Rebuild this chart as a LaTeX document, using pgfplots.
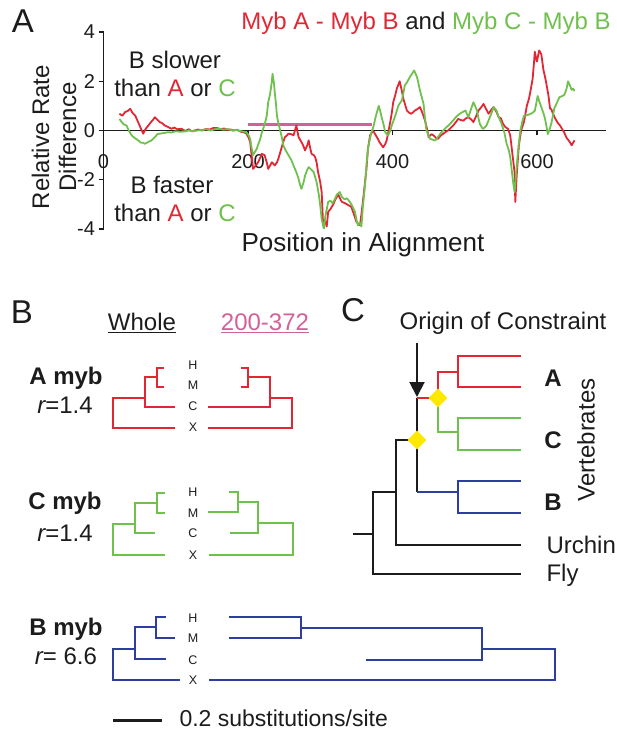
\documentclass[border=0pt]{standalone}
\usepackage{pgfplots}
\pgfplotsset{compat=1.18}
\usepackage{fontspec}
\setmainfont{Liberation Sans}
\usetikzlibrary{arrows.meta}
\definecolor{myred}{RGB}{226,38,52}
\definecolor{mygreen}{RGB}{112,192,78}
\definecolor{myblue}{RGB}{45,62,158}
\definecolor{mypink}{RGB}{212,96,152}
\definecolor{myyellow}{RGB}{255,232,0}
\definecolor{txt}{RGB}{28,28,28}
\newcommand{\ftxt}{\fontsize{24}{27}\selectfont}
\newcommand{\flab}{\fontsize{26}{27}\selectfont}
\newcommand{\fbig}{\fontsize{33}{36}\selectfont}
\newcommand{\ftick}{\fontsize{20}{22}\selectfont}
\newcommand{\fleaf}{\fontsize{12.5}{14}\selectfont}
\pgfplotsset{
  trred/.style={myred, line width=2.3pt, line join=miter},
  trgreen/.style={mygreen, line width=2.3pt, line join=miter},
  trblue/.style={myblue, line width=2.2pt, line join=miter},
  trblack/.style={txt, line width=2.2pt, line join=miter},
}
\tikzset{leaf/.style={font=\fleaf, text=txt}}
\begin{document}
\begin{tikzpicture}
% ---------------- canvas (pixel coordinates, y downward) ----------------
\begin{axis}[name=canvas, at={(0pt,0pt)}, anchor=south west,
  width=617pt, height=733pt, scale only axis,
  xmin=0, xmax=617, ymin=0, ymax=733, y dir=reverse,
  axis lines=none, ticks=none, clip=false]
% Panel A texts
\node[font=\fbig, text=txt] at (23,21) {A};
\node[font=\ftxt] at (426,23) {\textcolor{myred}{Myb A - Myb B} \textcolor{txt}{and} \textcolor{mygreen}{Myb C - Myb B}};
\node[font=\ftxt, text=txt] at (175,60) {B slower};
\node[font=\ftxt, text=txt] at (175,88) {than \textcolor{myred}{A} or \textcolor{mygreen}{C}};
\node[font=\ftxt, text=txt] at (172,185) {B faster};
\node[font=\ftxt, text=txt] at (175,213) {than \textcolor{myred}{A} or \textcolor{mygreen}{C}};
\node[font=\ftxt, text=txt, rotate=90, align=center] at (54,137) {Relative Rate\\Difference};
\node[font=\flab, text=txt] at (363,245) {Position in Alignment};
% Panel B texts
\node[font=\fbig, text=txt] at (22,312) {B};
\node[font=\ftxt, text=txt] at (142,323) {\underline{Whole}};
\node[font=\ftxt, text=mypink] at (265,323) {\underline{200-372}};
\node[font=\ftxt\bfseries, text=txt] at (66,378) {A myb};
\node[font=\ftxt, text=txt] at (65,405) {{\itshape r}=1.4};
\node[font=\ftxt\bfseries, text=txt] at (65,503) {C myb};
\node[font=\ftxt, text=txt] at (65,533) {{\itshape r}=1.4};
\node[font=\ftxt\bfseries, text=txt] at (66,629) {B myb};
\node[font=\ftxt, text=txt] at (66,656) {{\itshape r}= 6.6};
\node[leaf] at (193,365) {H};
\node[leaf] at (193,385) {M};
\node[leaf] at (193,406) {C};
\node[leaf] at (193,427) {X};
\node[leaf] at (193,492) {H};
\node[leaf] at (193,513) {M};
\node[leaf] at (193,533) {C};
\node[leaf] at (193,555) {X};
\node[leaf] at (193,618) {H};
\node[leaf] at (193,638) {M};
\node[leaf] at (193,660) {C};
\node[leaf] at (193,680) {X};
\node[font=\fontsize{23}{25}\selectfont, text=txt, anchor=west, inner ysep=1pt] at (176,718) {0.2 substitutions/site};
% Panel C texts
\node[font=\fbig, text=txt] at (353,310) {C};
\node[font=\ftxt, text=txt] at (503,323) {Origin of Constraint};
\node[font=\ftxt\bfseries, text=txt] at (553,378) {A};
\node[font=\ftxt\bfseries, text=txt] at (553,440) {C};
\node[font=\ftxt\bfseries, text=txt] at (553,502) {B};
\node[font=\ftxt, text=txt, rotate=90] at (586,440) {Vertebrates};
\node[font=\ftxt, text=txt, anchor=west] at (543,545) {Urchin};
\node[font=\ftxt, text=txt, anchor=west] at (543,575) {Fly};
% ---- red trees
\addplot[trred] coordinates {(175,428) (113,428) (113,398) (145,398)};
\addplot[trred] coordinates {(175,407) (145,407) (145,377) (157,377)};
\addplot[trred] coordinates {(164,368) (157,368) (157,387) (164,387)};
\addplot[trred] coordinates {(208,428) (292,428) (292,398) (270,398)};
\addplot[trred] coordinates {(208,407) (270,407) (270,377) (248,377)};
\addplot[trred] coordinates {(241,368) (248,368) (248,387) (241,387)};
% ---- green trees
\addplot[trgreen] coordinates {(165,555) (113,555) (113,524) (135,524)};
\addplot[trgreen] coordinates {(155,533) (135,533) (135,503) (157,503)};
\addplot[trgreen] coordinates {(165,493) (157,493) (157,513) (165,513)};
\addplot[trgreen] coordinates {(209,555) (293,555) (293,523) (258,523)};
\addplot[trgreen] coordinates {(230,533) (258,533) (258,502) (238,502)};
\addplot[trgreen] coordinates {(229,492) (238,492) (238,512) (208,512)};
% ---- blue trees
\addplot[trblue] coordinates {(180,680) (113,680) (113,649) (135,649)};
\addplot[trblue] coordinates {(166,659) (135,659) (135,627) (156,627)};
\addplot[trblue] coordinates {(166,617) (156,617) (156,638) (175,638)};
\addplot[trblue] coordinates {(209,680) (555,680) (555,649) (482,649)};
\addplot[trblue] coordinates {(366,660) (482,660) (482,628) (301,628)};
\addplot[trblue] coordinates {(229,617) (301,617) (301,638) (229,638)};
% scale bar
\addplot[txt, line width=3pt] coordinates {(113,720) (162,720)};
% ---- panel C tree
\addplot[trblack] coordinates {(353,534) (373,534)};
\addplot[trblack] coordinates {(521,574) (373,574) (373,492) (396,492)};
\addplot[trblack] coordinates {(521,545) (396,545) (396,440) (417,440)};
\addplot[trblack] coordinates {(417,398) (417,492)};
\addplot[trblue] coordinates {(417,492) (458,492)};
\addplot[trblue] coordinates {(521,481) (458,481) (458,513) (521,513)};
\addplot[trred] coordinates {(417,398) (438,398) (438,372) (458,372)};
\addplot[trred] coordinates {(521,356) (458,356) (458,387) (521,387)};
\addplot[trgreen] coordinates {(438,398) (438,432) (458,432)};
\addplot[trgreen] coordinates {(521,418) (458,418) (458,450) (521,450)};
\addplot[txt, line width=2pt, -{Triangle[length=15pt, width=15pt]}] coordinates {(417,343) (417,397)};
\addplot[only marks, mark=square*, mark size=6.5pt, mark options={rotate=45, fill=myyellow, draw=myyellow}] coordinates {(438,398) (417,440)};
\end{axis}
% ---------------- Panel A plot ----------------
\begin{axis}[at={(103.5pt,504pt)}, anchor=south west,
  width=502.1pt, height=197pt, scale only axis,
  xmin=0, xmax=695, ymin=-4, ymax=4,
  axis y line*=left, axis x line*=middle,
  hide obscured x ticks=false, hide obscured y ticks=false,
  ytick={-4,-2,0,2,4}, yticklabels={-4,-2,0,2,4},
  xtick={0,200,400,600}, xticklabels={0,200,400,600},
  tick label style={font=\ftick, text=txt},
  xticklabel style={yshift=-16pt},
  major tick length=5pt, tick align=outside,
  axis line style={line width=1.3pt, txt},
  tick style={line width=1.3pt, txt}]
\addplot[mypink, line width=3pt] coordinates {(200,0.25) (372,0.25)};
\addplot[myred, line width=1.8pt, line join=round] coordinates {
(22,0.68) (26,0.6) (30,0.75) (34,0.8) (37,0.88) (40,0.72) (44,0.6) (47,0.4) (50,0.2) (53,0.0) (55,-0.13) (58,0.05) (62,0.2) (66,0.35) (69,0.45) (71,0.54) (74,0.45) (78,0.34) (81,0.3) (85,0.2) (89,0.15) (94,0.07) (98,0.12) (102,0.05) (108,0.07) (113,-0.02) (118,0.05) (122,-0.03) (126,0.0) (131,0.04) (136,0.0) (142,0.06) (147,0.04) (152,0.1) (157,0.1) (162,0.05) (167,0.08) (172,0.02) (176,0.04) (180,0.0) (185,0.03) (190,-0.05) (195,-0.08) (198,-0.13) (201,-0.3) (203,-0.47) (205,-1.0) (207,-1.56) (210,-1.45) (214,-1.29) (217,-1.1) (219,-0.95) (223,-1.0) (226,-1.3) (228,-1.56) (231,-1.4) (233,-1.29) (235,-1.35) (237,-1.42) (240,-1.3) (242,-1.15) (246,-0.75) (249,-0.45) (251,-0.27) (254,-0.2) (256,-0.13) (260,-0.15) (263,-0.2) (265,0.0) (267,0.2) (270,-0.27) (274,-0.47) (277,-0.65) (279,-0.81) (282,-0.6) (284,-0.4) (286,-0.7) (288,-0.95) (291,-1.0) (293,-1.08) (295,-1.3) (297,-1.69) (300,-2.1) (302,-2.5) (304,-3.85) (307,-3.7) (309,-3.9) (311,-3.3) (314,-3.2) (318,-3.0) (321,-2.8) (325,-2.6) (328,-2.8) (330,-2.9) (334,-2.95) (337,-3.0) (340,-3.05) (343,-3.1) (346,-3.35) (350,-3.7) (353,-3.8) (355,-3.85) (357,-3.4) (359,-2.9) (362,-2.1) (364,-1.56) (366,-0.75) (369,-0.2) (373,0.0) (377,-0.2) (380,-0.35) (382,-0.47) (385,-0.6) (387,-0.68) (390,-0.55) (392,-0.4) (394,-0.1) (396,0.2) (399,0.7) (401,1.15) (404,1.45) (406,1.7) (408,1.85) (410,2.0) (413,1.6) (415,1.29) (418,1.0) (420,0.81) (423,0.72) (426,0.68) (429,0.75) (431,0.81) (435,0.88) (438,0.95) (441,0.75) (445,0.41) (448,0.05) (450,-0.27) (454,-0.15) (457,-0.2) (460,-0.3) (463,-0.34) (467,-0.2) (470,-0.14) (474,-0.05) (477,0.0) (481,0.12) (484,0.2) (488,0.35) (491,0.47) (495,0.42) (498,0.4) (502,0.5) (505,0.54) (509,0.45) (512,0.34) (516,0.6) (519,0.81) (523,0.95) (526,1.08) (530,0.85) (533,0.68) (537,0.85) (540,0.95) (544,0.75) (547,0.54) (550,0.5) (553,0.27) (556,0.15) (558,0.1) (560,0.07) (563,-0.2) (565,-0.7) (567,-1.2) (569,-1.7) (570,-2.9) (572,-1.8) (575,-0.6) (578,0.0) (582,0.35) (586,1.0) (589,1.3) (591,1.6) (594,2.1) (596,2.8) (597,3.2) (599,2.9) (600,2.8) (602,3.1) (603,3.25) (606,3.1) (609,2.45) (611,2.2) (613,1.9) (616,1.4) (618,0.9) (620,0.85) (622,0.7) (625,0.5) (629,0.3) (632,0.2) (634,0.1) (638,-0.1) (641,-0.3) (645,-0.45) (648,-0.6) (650,-0.5) (652,-0.4)
};
\addplot[mygreen, line width=1.8pt, line join=round] coordinates {
(22,0.47) (25,0.35) (28,0.25) (32,0.2) (35,0.0) (39,-0.2) (43,-0.3) (48,-0.4) (52,-0.5) (55,-0.5) (57,-0.54) (60,-0.5) (63,-0.45) (66,-0.41) (70,-0.3) (75,-0.14) (80,-0.12) (84,-0.1) (89,-0.07) (94,-0.08) (100,-0.03) (106,-0.05) (112,-0.04) (118,0.0) (124,-0.03) (130,0.0) (136,0.02) (142,0.05) (148,0.0) (154,0.05) (160,0.08) (166,0.03) (172,0.06) (178,0.0) (184,0.02) (190,-0.03) (195,-0.05) (198,-0.07) (201,-0.2) (203,-0.34) (205,-0.7) (207,-1.0) (210,-0.85) (212,-0.75) (215,-0.5) (217,-0.34) (219,-0.1) (221,0.07) (224,0.35) (226,0.61) (228,1.15) (230,1.4) (231,1.56) (233,2.0) (234,2.3) (236,1.9) (237,1.56) (239,1.0) (240,0.61) (242,0.3) (244,0.07) (247,-0.3) (249,-0.61) (252,-0.8) (256,-1.0) (260,-1.2) (263,-1.42) (267,-1.7) (270,-1.96) (272,-2.2) (274,-2.37) (277,-2.1) (279,-1.83) (282,-1.6) (284,-1.49) (288,-1.6) (291,-1.69) (293,-1.9) (295,-2.1) (298,-2.6) (300,-3.05) (302,-3.6) (305,-4.0) (307,-3.5) (309,-3.2) (311,-2.9) (314,-2.85) (317,-2.95) (320,-2.8) (323,-2.6) (327,-2.5) (330,-2.7) (334,-2.8) (337,-2.75) (341,-2.9) (344,-3.05) (348,-3.3) (350,-3.6) (352,-3.85) (355,-3.75) (357,-3.9) (359,-3.1) (362,-2.2) (364,-1.4) (366,-0.75) (369,-0.3) (371,-0.07) (374,0.2) (376,0.47) (379,0.8) (381,1.0) (383,0.8) (385,0.54) (388,0.2) (390,-0.07) (392,-0.15) (394,-0.2) (397,0.0) (399,0.2) (402,0.45) (404,0.61) (408,1.0) (410,1.1) (413,1.22) (415,1.5) (417,1.83) (420,1.95) (424,2.17) (427,2.3) (430,2.44) (432,2.3) (434,2.17) (436,1.9) (438,1.63) (441,1.3) (443,1.08) (445,0.5) (447,0.0) (450,-0.2) (452,-0.34) (456,-0.38) (459,-0.41) (462,-0.3) (466,-0.14) (470,0.0) (475,0.14) (479,0.25) (484,0.41) (488,0.55) (493,0.68) (497,0.75) (501,0.81) (505,0.54) (508,0.8) (512,1.15) (515,0.95) (517,0.81) (519,0.5) (521,0.27) (524,0.1) (526,0.07) (530,0.2) (533,0.41) (537,0.7) (540,0.95) (544,0.81) (547,0.55) (551,0.27) (555,-0.1) (558,-0.54) (561,-0.8) (563,-1.08) (565,-1.6) (567,-2.1) (569,-2.5) (571,-1.8) (573,-1.1) (575,-0.5) (577,0.0) (580,0.4) (582,0.6) (586,0.62) (589,0.65) (593,0.7) (597,0.8) (599,1.1) (601,1.4) (603,1.2) (606,0.95) (609,0.7) (611,0.5) (613,0.2) (615,-0.15) (618,0.1) (620,0.3) (622,0.6) (624,0.9) (628,1.15) (631,1.35) (635,1.4) (638,1.45) (641,1.7) (643,2.0) (646,1.8) (648,1.65) (650,1.7) (652,1.6)
};
\end{axis}
\pgfresetboundingbox
\useasboundingbox (0pt,0pt) rectangle (617pt,733pt);
\end{tikzpicture}
\end{document}
